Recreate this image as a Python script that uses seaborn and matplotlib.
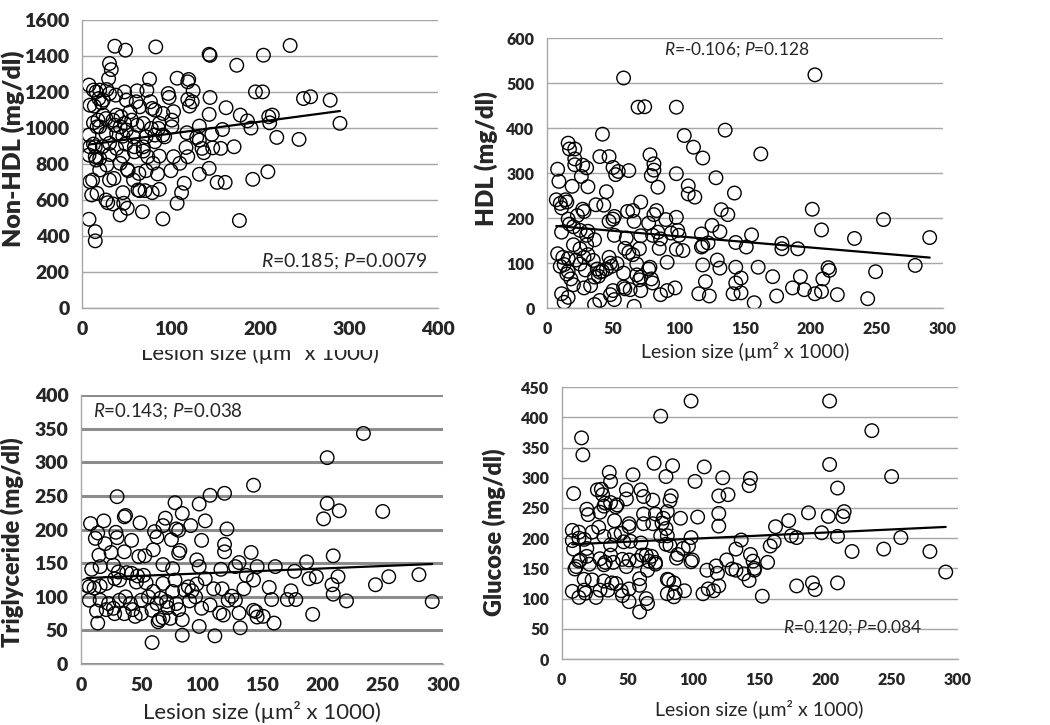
import numpy as np
import matplotlib
matplotlib.use("Agg")
import matplotlib.pyplot as plt
from matplotlib.transforms import Bbox, TransformedBbox
import seaborn as sns

# Non-HDL panel (x = lesion size, y = mg/dl)
nonhdl_x = [37, 49, 83, 143, 144, 234, 204, 174, 31, 33, 30, 76, 107, 120, 119, 8, 13, 16, 20, 28, 31, 38,
            48, 62, 73, 97, 98, 125, 195, 203, 249, 257, 279, 19, 22, 24, 50, 61, 65, 77, 79, 82, 119, 121,
            124, 144, 162, 9, 14, 39, 44, 103, 91, 143, 178, 210, 211, 214, 186, 290, 13, 18, 20, 17, 37, 48,
            50, 54, 69, 78, 86, 101, 101, 132, 158, 190, 8, 27, 39, 46, 58, 72, 82, 91, 118, 129, 146, 219,
            244, 13, 9, 15, 23, 31, 39, 49, 59, 69, 82, 93, 117, 132, 135, 147, 156, 171, 8, 15, 20, 31, 46,
            59, 69, 74, 87, 103, 119, 137, 16, 28, 43, 51, 52, 100, 110, 80, 143, 209, 9, 12, 20, 31, 36, 58,
            64, 72, 85, 132, 115, 152, 161, 192, 11, 17, 27, 29, 35, 46, 47, 51, 63, 65, 71, 79, 87, 112, 107,
            43, 68, 91, 177, 8, 15, 15, 24, 27, 35, 43, 56, 87, 62]
nonhdl_y = [1456, 1434, 1452, 1411, 1405, 1460, 1406, 1350, 1360, 1326, 1276, 1273, 1278, 1271, 1258, 1240,
            1212, 1202, 1212, 1215, 1193, 1184, 1202, 1208, 1211, 1193, 1171, 1208, 1202, 1202, 1165, 1175,
            1156, 1165, 1141, 1156, 1156, 1147, 1119, 1147, 1110, 1101, 1160, 1123, 1147, 1171, 1114, 1128,
            1123, 1073, 1064, 1092, 1082, 1077, 1073, 1064, 1030, 1073, 1041, 1027, 1030, 1045, 1008, 1008,
            1017, 1027, 990, 1091, 1027, 999, 999, 1008, 1045, 1012, 993, 1001, 962, 971, 971, 956, 952, 952,
            962, 962, 975, 949, 966, 949, 938, 912, 897, 897, 897, 916, 888, 912, 897, 897, 925, 952, 893,
            934, 888, 891, 888, 897, 851, 842, 832, 854, 845, 869, 873, 842, 845, 842, 842, 864, 823, 795,
            805, 771, 764, 764, 805, 805, 777, 758, 703, 712, 768, 712, 721, 712, 749, 764, 746, 744, 694,
            699, 699, 716, 629, 638, 601, 586, 579, 642, 583, 555, 657, 653, 653, 642, 660, 642, 583, 518,
            536, 496, 487, 494, 425, 374, 1073, 1054, 1045, 1008, 1045, 1027, 1017]

# HDL panel
hdl_x = [58, 203, 69, 74, 98, 135, 42, 104, 16, 17, 21, 111, 118, 162, 40, 47, 78, 21, 21, 27, 30, 8, 9,
         50, 52, 54, 62, 81, 81, 79, 98, 128, 26, 31, 19, 84, 107, 107, 112, 45, 142, 7, 10, 14, 15, 37,
         43, 71, 11, 27, 28, 61, 65, 81, 83, 132, 137, 201, 16, 23, 50, 51, 47, 66, 77, 90, 98, 255, 11,
         17, 20, 25, 31, 30, 36, 51, 60, 71, 80, 84, 86, 94, 99, 100, 117, 125, 131, 155, 178, 178, 143,
         151, 190, 208, 233, 290, 20, 25, 30, 59, 62, 65, 70, 85, 98, 103, 117, 118, 122, 8, 12, 16, 28,
         31, 22, 10, 13, 25, 35, 47, 48, 49, 53, 68, 91, 129, 118, 131, 143, 160, 213, 214, 279, 249, 209,
         16, 15, 18, 29, 38, 40, 42, 36, 39, 45, 58, 68, 71, 77, 78, 79, 80, 70, 120, 143, 147, 171, 192,
         186, 195, 11, 20, 28, 33, 58, 59, 63, 71, 50, 48, 51, 86, 91, 97, 115, 123, 141, 147, 174, 203,
         208, 220, 243, 157, 13, 16, 36, 40, 66]
hdl_y = [512, 519, 447, 448, 447, 396, 387, 384, 367, 354, 354, 358, 334, 343, 337, 337, 341, 332, 319,
         318, 312, 309, 282, 313, 297, 304, 306, 321, 307, 295, 299, 290, 293, 270, 271, 269, 272, 254,
         247, 259, 256, 241, 233, 241, 236, 230, 229, 236, 223, 220, 215, 215, 217, 208, 217, 219, 208,
         220, 198, 206, 198, 204, 193, 193, 189, 197, 202, 197, 169, 187, 181, 173, 171, 162, 152, 162,
         156, 161, 162, 169, 154, 167, 173, 162, 165, 184, 170, 163, 144, 132, 146, 136, 132, 174, 155,
         157, 141, 132, 141, 133, 124, 119, 132, 133, 131, 128, 136, 139, 145, 121, 113, 110, 113, 119,
         107, 93, 97, 98, 106, 113, 100, 93, 99, 98, 102, 107, 96, 89, 91, 91, 90, 84, 95, 81, 65, 82, 76,
         65, 85, 87, 80, 82, 69, 71, 87, 78, 74, 69, 87, 91, 65, 56, 63, 59, 56, 67, 70, 70, 45, 41, 32,
         52, 45, 50, 47, 43, 41, 39, 39, 30, 19, 30, 39, 45, 32, 27, 32, 34, 27, 32, 37, 30, 21, 12, 13,
         24, 8, 17, 4]

# Triglyceride panel
tg_x = [234, 204, 143, 30, 107, 119, 78, 98, 204, 250, 214, 84, 36, 37, 70, 103, 201, 8, 19, 49, 91, 68,
        121, 79, 81, 29, 30, 14, 12, 61, 63, 42, 100, 75, 119, 119, 82, 81, 141, 36, 20, 25, 15, 53, 48,
        60, 96, 209, 187, 131, 128, 146, 161, 98, 9, 16, 27, 31, 68, 76, 116, 177, 280, 255, 213, 195,
        189, 137, 143, 103, 42, 47, 52, 46, 54, 5, 7, 11, 16, 21, 28, 32, 38, 78, 68, 208, 209, 244, 156,
        135, 110, 117, 174, 89, 92, 86, 60, 76, 96, 125, 128, 122, 158, 171, 178, 220, 291, 7, 16, 23, 21,
        27, 32, 37, 41, 43, 50, 56, 63, 71, 72, 79, 81, 66, 90, 95, 100, 107, 115, 118, 131, 143, 145,
        146, 151, 192, 13, 14, 28, 36, 45, 50, 59, 65, 64, 68, 74, 84, 98, 132, 160, 59, 84, 111]
tg_y = [343, 307, 266, 249, 251, 254, 240, 238, 239, 227, 228, 224, 219, 221, 217, 213, 216, 209, 213,
        210, 206, 206, 201, 201, 199, 196, 188, 195, 187, 197, 189, 184, 184, 185, 178, 167, 169, 165,
        166, 167, 179, 166, 162, 161, 160, 170, 155, 161, 152, 151, 145, 145, 145, 145, 141, 145, 147,
        137, 148, 142, 141, 138, 133, 130, 130, 130, 127, 132, 125, 127, 135, 131, 132, 122, 121, 117,
        115, 113, 116, 120, 127, 125, 136, 125, 120, 118, 104, 118, 114, 112, 112, 112, 109, 115, 109,
        110, 108, 108, 119, 101, 95, 95, 96, 96, 96, 94, 93, 95, 95, 90, 81, 83, 95, 100, 90, 81, 95,
        100, 90, 93, 84, 90, 81, 98, 94, 100, 83, 88, 76, 73, 76, 80, 78, 70, 71, 74, 79, 61, 75, 75,
        71, 75, 80, 66, 63, 69, 68, 66, 56, 54, 61, 32, 43, 42]

# Glucose panel
glu_x = [98, 203, 75, 235, 15, 16, 70, 203, 84, 108, 36, 54, 79, 122, 143, 142, 250, 37, 101, 9, 209, 27,
         30, 31, 60, 49, 49, 62, 69, 83, 82, 126, 119, 32, 33, 37, 41, 42, 19, 20, 29, 40, 62, 71, 77, 80,
         90, 103, 119, 119, 187, 214, 213, 202, 172, 162, 76, 62, 69, 79, 8, 13, 23, 28, 51, 51, 40, 45,
         80, 75, 98, 174, 178, 197, 209, 257, 8, 9, 13, 17, 19, 32, 37, 47, 52, 60, 79, 82, 92, 96, 136,
         132, 161, 158, 220, 244, 279, 10, 11, 14, 13, 19, 21, 29, 32, 33, 37, 39, 46, 49, 51, 57, 64, 66,
         68, 71, 71, 61, 65, 87, 88, 99, 98, 125, 143, 145, 146, 146, 156, 117, 129, 132, 138, 118, 110,
         80, 81, 59, 142, 190, 209, 291, 17, 23, 32, 38, 41, 85, 59, 119, 178, 8, 17, 18, 29, 35, 45, 51,
         93, 86, 111, 115, 107, 80, 192, 13, 26, 46, 64, 85, 152, 51, 65, 59]
glu_y = [427, 427, 402, 378, 366, 338, 324, 322, 320, 318, 309, 305, 302, 300, 299, 287, 302, 294, 294,
         274, 283, 280, 281, 272, 280, 280, 265, 269, 263, 270, 262, 272, 270, 253, 258, 259, 252, 255,
         248, 239, 243, 229, 240, 240, 233, 244, 233, 235, 241, 220, 242, 244, 236, 236, 229, 219, 225,
         224, 224, 216, 213, 210, 210, 218, 224, 219, 206, 208, 204, 204, 201, 204, 201, 209, 203, 201,
         196, 182, 200, 198, 183, 203, 189, 194, 195, 192, 190, 188, 183, 187, 197, 182, 194, 187, 178,
         182, 178, 149, 153, 164, 162, 170, 157, 166, 156, 160, 172, 160, 165, 153, 164, 163, 172, 162,
         170, 160, 157, 172, 147, 167, 173, 164, 161, 164, 173, 162, 150, 147, 160, 154, 149, 147, 141,
         142, 147, 132, 131, 133, 130, 126, 126, 144, 132, 131, 129, 126, 125, 126, 122, 121, 121, 112,
         114, 109, 114, 114, 113, 116, 113, 110, 116, 113, 108, 108, 115, 102, 102, 105, 100, 103, 104,
         95, 92, 78]

stats_text = [r"$\it{R}$=0.185; $\it{P}$=0.0079",
              r"$\it{R}$=-0.106; $\it{P}$=0.128",
              r"$\it{R}$=0.143; $\it{P}$=0.038",
              r"$\it{R}$=0.120; $\it{P}$=0.084"]
y_labels = ["Non-HDL (mg/dl)", "HDL (mg/dl)", "Triglyceride (mg/dl)", "Glucose (mg/dl)"]
x_label = "Lesion size (\u00b5m\u00b2 x 1000)"

sns.set_style("white")
plt.rcParams["font.family"] = ["Lato", "DejaVu Sans"]
plt.rcParams["mathtext.fontset"] = "custom"
plt.rcParams["mathtext.rm"] = "Lato"
plt.rcParams["mathtext.it"] = "Lato:italic"

fig = plt.figure(figsize=(10.5, 7.25), dpi=100)

# per-panel layout: axes rect, limits, tick sizes, stats text, y label size/anchor (right edge), x label
panels = [
    dict(x=nonhdl_x, y=nonhdl_y, rect=[0.078, 0.575, 0.339, 0.397], xmax=400, ymax=1600, ystep=200,
         tsize=14, tpos=(0.972, 0.16), ha="right", fsize=14, glw=1.0,
         ylsize=18, ylpos=(-0.16, 0.552), xlsize=16, xlpad=3),
    dict(x=hdl_x, y=hdl_y, rect=[0.521, 0.575, 0.377, 0.372], xmax=300, ymax=600, ystep=100,
         tsize=11.5, tpos=(0.479, 0.957), ha="center", fsize=12.5, glw=1.0,
         ylsize=17.5, ylpos=(-0.124, 0.556), xlsize=14, xlpad=4),
    dict(x=tg_x, y=tg_y, rect=[0.077, 0.084, 0.345, 0.371], xmax=300, ymax=400, ystep=50,
         tsize=14, tpos=(0.034, 0.938), ha="left", fsize=13.5, glw=2.2,
         ylsize=17, ylpos=(-0.157, 0.454), xlsize=16, xlpad=5),
    dict(x=glu_x, y=glu_y, rect=[0.535, 0.091, 0.377, 0.375], xmax=300, ymax=450, ystep=50,
         tsize=11.5, tpos=(0.56, 0.116), ha="left", fsize=12.5, glw=1.0,
         ylsize=17, ylpos=(-0.141, 0.467), xlsize=14, xlpad=9),
]

axes = []
for i, p in enumerate(panels):
    ax = fig.add_axes(p["rect"])
    sns.regplot(x=np.array(p["x"]), y=np.array(p["y"]), ax=ax, ci=None, truncate=True,
                scatter_kws=dict(facecolors="none", edgecolors="black", s=95, linewidths=1.0, alpha=1),
                line_kws=dict(color="black", lw=1.6))
    ax.set_xlim(0, p["xmax"])
    ax.set_ylim(0, p["ymax"])
    ax.set_xticks(np.arange(0, p["xmax"] + 1, 50 if p["xmax"] == 300 else 100))
    ax.set_yticks(np.arange(0, p["ymax"] + 1, p["ystep"]))
    gcol = "#8c8c8c" if p["glw"] > 2 else "#a6a6a6"
    ax.yaxis.grid(True, color=gcol, lw=p["glw"])
    ax.set_axisbelow(True)
    sns.despine(ax=ax)
    for side in ["left", "bottom"]:
        ax.spines[side].set_color("#a6a6a6")
        ax.spines[side].set_linewidth(1.0)
    ax.tick_params(axis="both", direction="out", length=5, width=1, color="#a6a6a6",
                   labelsize=p["tsize"], pad=4)
    for lab in ax.get_xticklabels() + ax.get_yticklabels():
        lab.set_fontweight("heavy")
    ax.set_ylabel(y_labels[i], fontsize=p["ylsize"], fontweight="heavy")
    ax.yaxis.set_label_coords(*p["ylpos"])
    ax.set_xlabel(x_label, fontsize=p["xlsize"], labelpad=p["xlpad"])
    ax.text(p["tpos"][0], p["tpos"][1], stats_text[i], transform=ax.transAxes, ha=p["ha"],
            va="center", fontsize=p["fsize"])
    axes.append(ax)

# the first panel's x label is cut across its top in the original figure
cut = TransformedBbox(Bbox([[0, 0], [1, 1 - 350 / 725]]), fig.transFigure)
axes[0].xaxis.label.set_clip_box(cut)
axes[0].xaxis.label.set_clip_on(True)

fig.savefig("out.png", dpi=100)
